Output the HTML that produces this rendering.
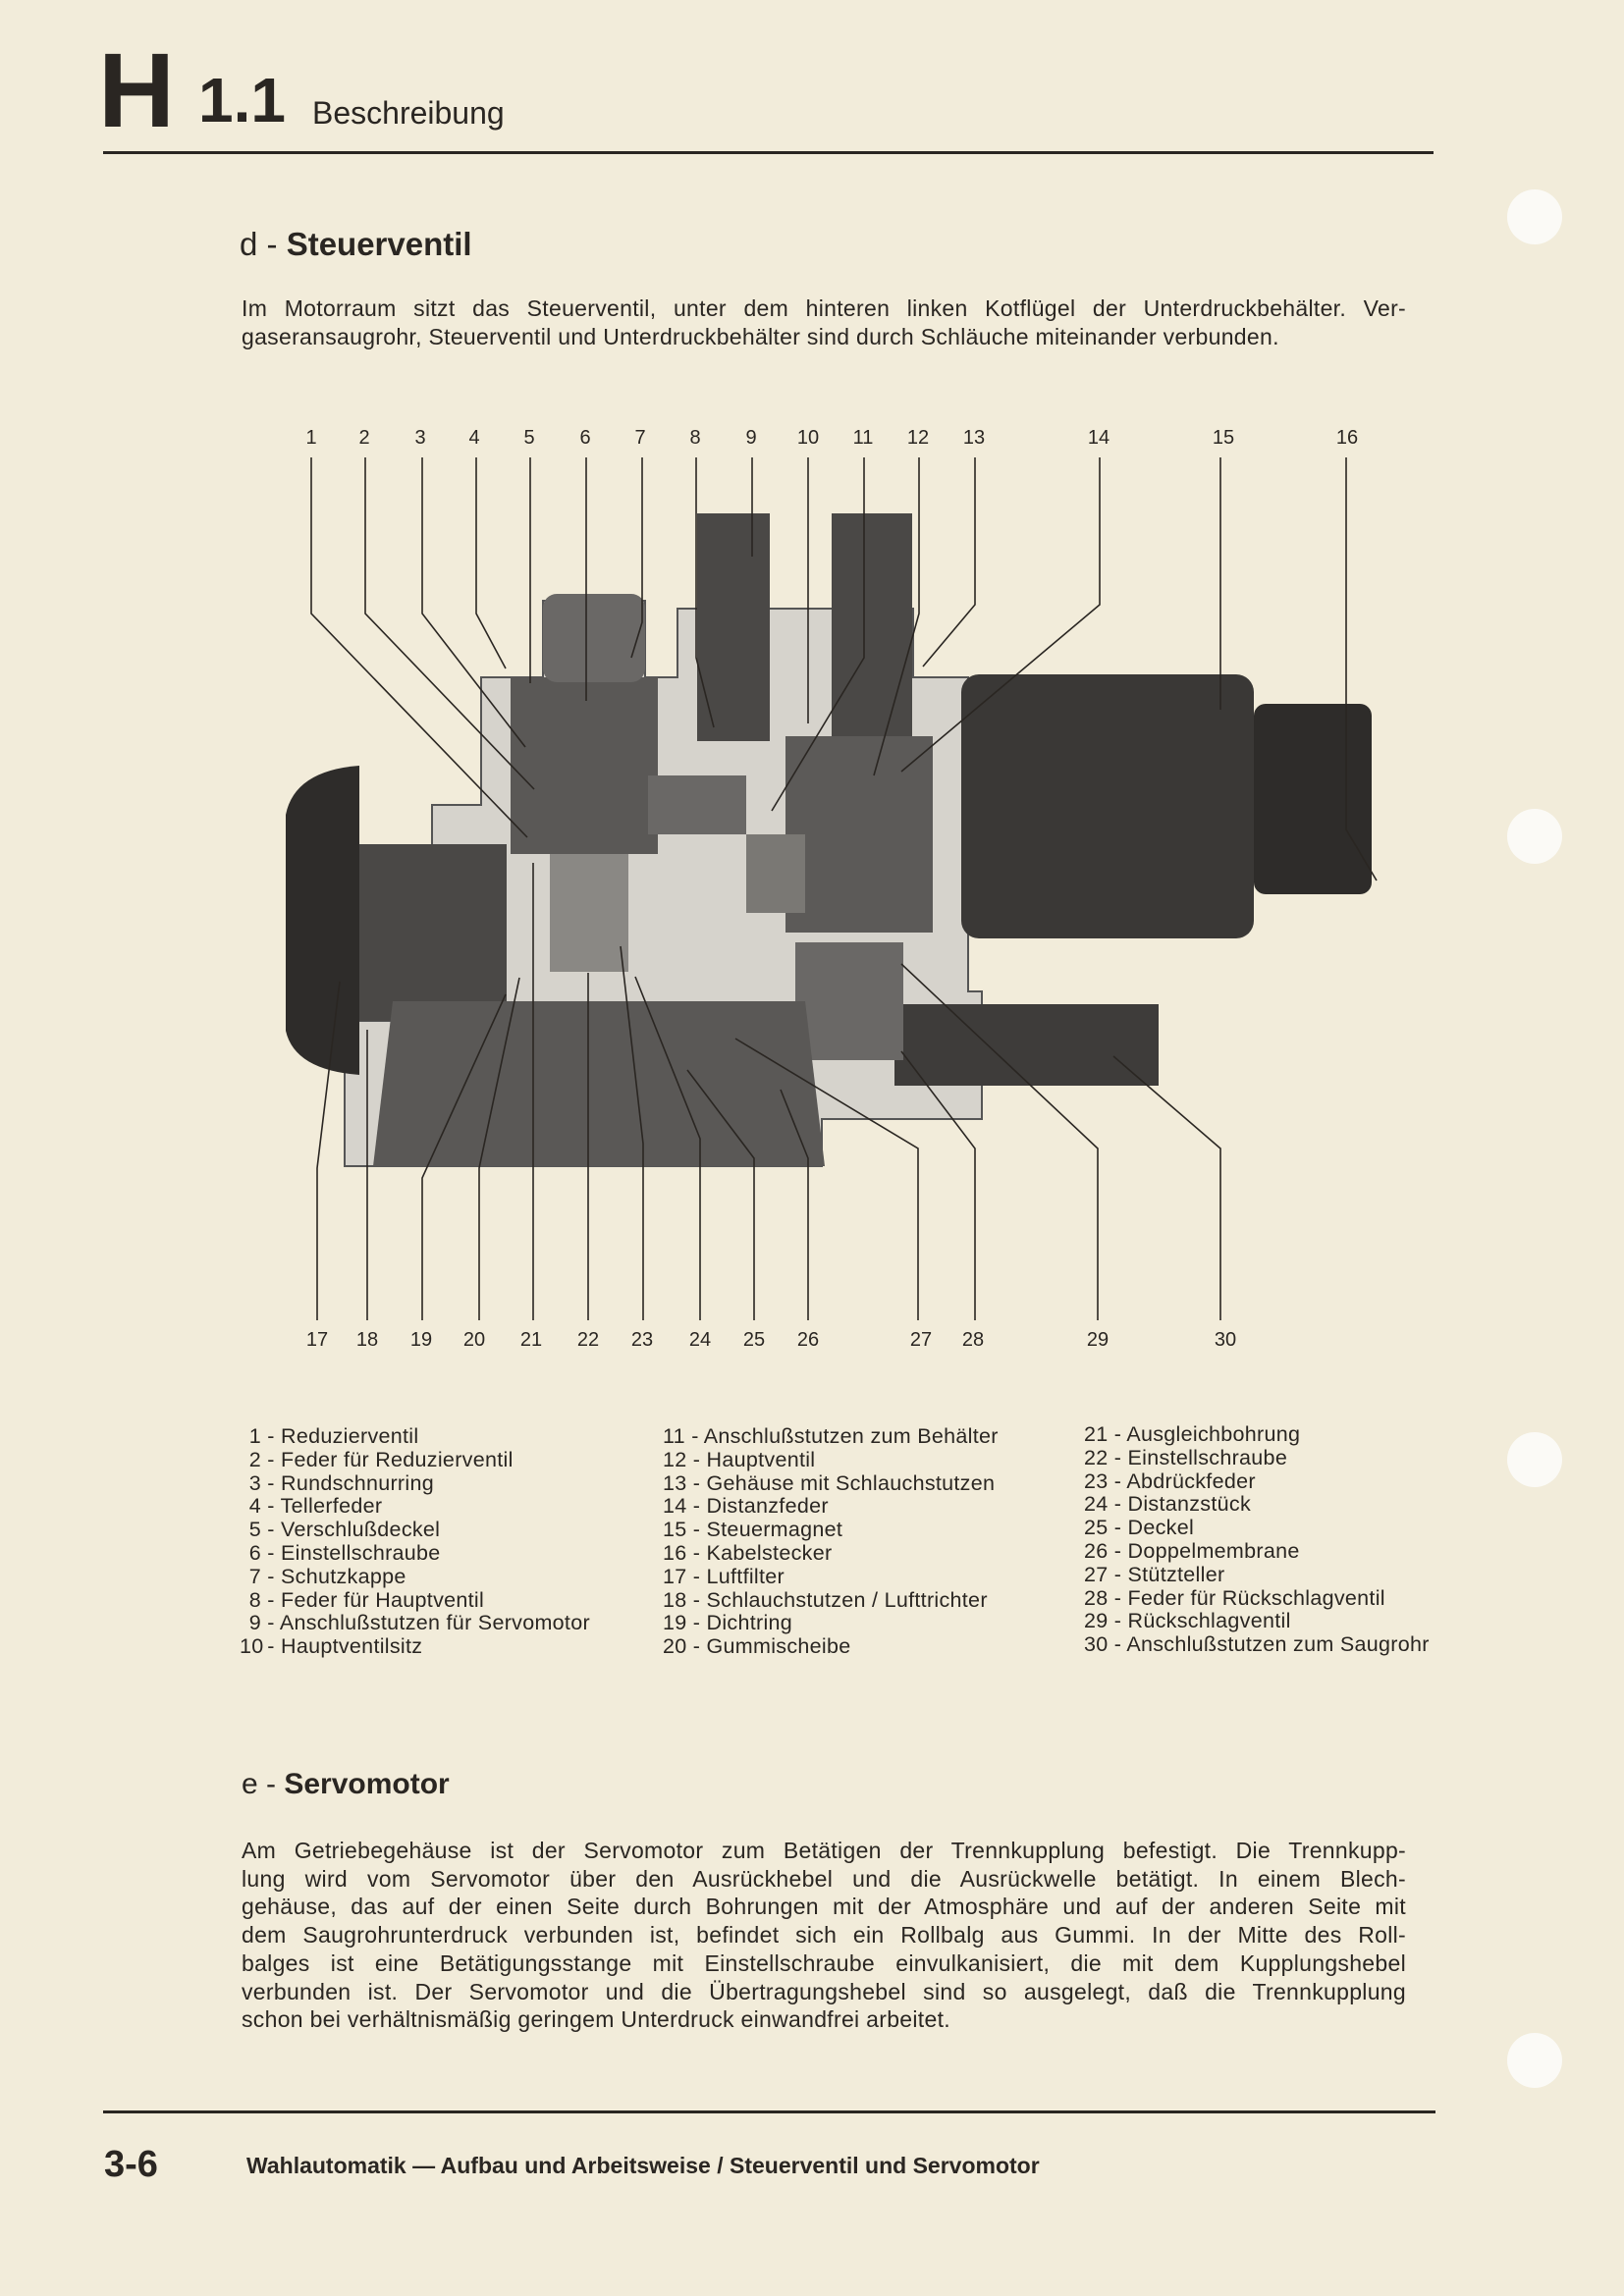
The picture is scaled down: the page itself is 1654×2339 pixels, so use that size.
<!DOCTYPE html>
<html><head><meta charset="utf-8">
<style>
html,body{margin:0;padding:0}
body{width:1654px;height:2339px;background:#f2ecda;position:relative;overflow:hidden;font-family:"Liberation Sans",sans-serif;color:#2a2622}
.a{position:absolute;white-space:nowrap}
.p{position:absolute;left:246px;width:1186px;font-size:23px;line-height:28.7px;letter-spacing:0.3px}
.p div{text-align:justify;text-align-last:justify;white-space:nowrap}
.p div.l{text-align-last:left}
.leg{position:absolute;font-size:21.5px;line-height:23.8px;letter-spacing:0.3px}
.leg div{white-space:nowrap}
.leg span{display:inline-block;width:22px;text-align:right}
.hole{position:absolute;width:56px;height:56px;border-radius:50%;background:#fbfaf6;left:1535px}
</style></head><body>
<div class="a" style="left:100px;top:38px;font-size:108px;font-weight:bold;line-height:108px;letter-spacing:-3px">H</div>
<div class="a" style="left:202px;top:70px;font-size:64px;font-weight:bold;line-height:64px">1.1</div>
<div class="a" style="left:318px;top:97px;font-size:32px;line-height:36px">Beschreibung</div>
<div class="a" style="left:105px;top:154px;width:1355px;height:3px;background:#2a2622"></div>

<div class="a" style="left:244px;top:230px;font-size:33px;line-height:38px">d - <b>Steuerventil</b></div>
<div class="p" style="top:300px">
<div>Im Motorraum sitzt das Steuerventil, unter dem hinteren linken Kotflügel der Unterdruckbehälter. Ver-</div>
<div class="l">gaseransaugrohr, Steuerventil und Unterdruckbehälter sind durch Schläuche miteinander verbunden.</div>
</div>

<svg class="a" style="left:0;top:0" width="1654" height="2339" viewBox="0 0 1654 2339">
<g fill="#d6d3cc" stroke="#555" stroke-width="2">
<path d="M351 1188 L351 1040 L440 1040 L440 820 L490 820 L490 690 L553 690 L553 612 L657 612 L657 690 L690 690 L690 620 L784 620 L847 620 L930 620 L930 690 L986 690 L986 1010 L1000 1010 L1000 1140 L837 1140 L837 1188 Z"/>
</g>
<g fill="#3a3836">
<rect x="979" y="687" width="298" height="269" rx="18"/>
<rect x="1277" y="717" width="120" height="194" rx="12" fill="#2e2c2a"/>
<rect x="710" y="523" width="74" height="232" fill="#4a4846"/>
<rect x="847" y="523" width="82" height="232" fill="#4a4846"/>
<rect x="911" y="1023" width="269" height="83" fill="#3e3c3a"/>
<rect x="520" y="690" width="150" height="180" fill="#5a5856"/>
<rect x="553" y="605" width="104" height="90" rx="14" fill="#6a6866"/>
<rect x="800" y="750" width="150" height="200" fill="#5c5a58"/>
<rect x="810" y="960" width="110" height="120" fill="#6a6866"/>
<rect x="560" y="870" width="80" height="120" fill="#8a8884"/>
<rect x="366" y="860" width="150" height="180" fill="#4a4846"/>
<path d="M291 830 Q300 785 366 780 L366 1095 Q300 1090 291 1050 Z" fill="#2e2c2a"/>
<path d="M400 1020 L820 1020 L840 1188 L380 1188 Z" fill="#5a5856"/>
<rect x="760" y="850" width="60" height="80" fill="#7a7874"/>
<rect x="660" y="790" width="100" height="60" fill="#6a6866"/>
</g>
<g stroke="#2a2622" stroke-width="1.6" fill="none">
<polyline points="317,466 317,625 537,853"/>
<polyline points="372,466 372,625 544,804"/>
<polyline points="430,466 430,625 535,761"/>
<polyline points="485,466 485,625 515,681"/>
<polyline points="540,466 540,696"/>
<polyline points="597,466 597,714"/>
<polyline points="654,466 654,634 643,670"/>
<polyline points="709,466 709,670 727,741"/>
<polyline points="766,466 766,567"/>
<polyline points="823,466 823,737"/>
<polyline points="880,466 880,670 786,826"/>
<polyline points="936,466 936,625 890,790"/>
<polyline points="993,466 993,616 940,679"/>
<polyline points="1120,466 1120,616 918,786"/>
<polyline points="1243,466 1243,723"/>
<polyline points="1371,466 1371,845 1402,897"/>
<polyline points="323,1345 323,1190 346,1000"/>
<polyline points="374,1345 374,1049"/>
<polyline points="430,1345 430,1200 515,1013"/>
<polyline points="488,1345 488,1190 529,996"/>
<polyline points="543,1345 543,879"/>
<polyline points="599,1345 599,991"/>
<polyline points="655,1345 655,1165 632,964"/>
<polyline points="713,1345 713,1160 647,995"/>
<polyline points="768,1345 768,1180 700,1090"/>
<polyline points="823,1345 823,1180 795,1110"/>
<polyline points="935,1345 935,1170 749,1058"/>
<polyline points="993,1345 993,1170 918,1071"/>
<polyline points="1118,1345 1118,1170 918,982"/>
<polyline points="1243,1345 1243,1170 1134,1076"/>
</g>
<g font-family="Liberation Sans, sans-serif" font-size="20" fill="#2a2622" text-anchor="middle">
<text x="317" y="452">1</text><text x="371" y="452">2</text><text x="428" y="452">3</text><text x="483" y="452">4</text><text x="539" y="452">5</text><text x="596" y="452">6</text><text x="652" y="452">7</text><text x="708" y="452">8</text><text x="765" y="452">9</text><text x="823" y="452">10</text><text x="879" y="452">11</text><text x="935" y="452">12</text><text x="992" y="452">13</text><text x="1119" y="452">14</text><text x="1246" y="452">15</text><text x="1372" y="452">16</text>
<text x="323" y="1371">17</text><text x="374" y="1371">18</text><text x="429" y="1371">19</text><text x="483" y="1371">20</text><text x="541" y="1371">21</text><text x="599" y="1371">22</text><text x="654" y="1371">23</text><text x="713" y="1371">24</text><text x="768" y="1371">25</text><text x="823" y="1371">26</text><text x="938" y="1371">27</text><text x="991" y="1371">28</text><text x="1118" y="1371">29</text><text x="1248" y="1371">30</text>
</g>
</svg>

<div class="leg" style="left:244px;top:1452px">
<div><span>1</span> - Reduzierventil</div><div><span>2</span> - Feder für Reduzierventil</div><div><span>3</span> - Rundschnurring</div><div><span>4</span> - Tellerfeder</div><div><span>5</span> - Verschlußdeckel</div><div><span>6</span> - Einstellschraube</div><div><span>7</span> - Schutzkappe</div><div><span>8</span> - Feder für Hauptventil</div><div><span>9</span> - Anschlußstutzen für Servomotor</div><div><span>10</span> - Hauptventilsitz</div>
</div>
<div class="leg" style="left:675px;top:1452px">
<div>11 - Anschlußstutzen zum Behälter</div><div>12 - Hauptventil</div><div>13 - Gehäuse mit Schlauchstutzen</div><div>14 - Distanzfeder</div><div>15 - Steuermagnet</div><div>16 - Kabelstecker</div><div>17 - Luftfilter</div><div>18 - Schlauchstutzen / Lufttrichter</div><div>19 - Dichtring</div><div>20 - Gummischeibe</div>
</div>
<div class="leg" style="left:1104px;top:1450px">
<div>21 - Ausgleichbohrung</div><div>22 - Einstellschraube</div><div>23 - Abdrückfeder</div><div>24 - Distanzstück</div><div>25 - Deckel</div><div>26 - Doppelmembrane</div><div>27 - Stützteller</div><div>28 - Feder für Rückschlagventil</div><div>29 - Rückschlagventil</div><div>30 - Anschlußstutzen zum Saugrohr</div>
</div>

<div class="a" style="left:246px;top:1800px;font-size:30px;line-height:36px">e - <b>Servomotor</b></div>
<div class="p" style="top:1871px">
<div>Am Getriebegehäuse ist der Servomotor zum Betätigen der Trennkupplung befestigt. Die Trennkupp-</div>
<div>lung wird vom Servomotor über den Ausrückhebel und die Ausrückwelle betätigt. In einem Blech-</div>
<div>gehäuse, das auf der einen Seite durch Bohrungen mit der Atmosphäre und auf der anderen Seite mit</div>
<div>dem Saugrohrunterdruck verbunden ist, befindet sich ein Rollbalg aus Gummi. In der Mitte des Roll-</div>
<div>balges ist eine Betätigungsstange mit Einstellschraube einvulkanisiert, die mit dem Kupplungshebel</div>
<div>verbunden ist. Der Servomotor und die Übertragungshebel sind so ausgelegt, daß die Trennkupplung</div>
<div class="l">schon bei verhältnismäßig geringem Unterdruck einwandfrei arbeitet.</div>
</div>

<div class="a" style="left:105px;top:2150px;width:1357px;height:3px;background:#2a2622"></div>
<div class="a" style="left:106px;top:2184px;font-size:38px;font-weight:bold;line-height:42px">3-6</div>
<div class="a" style="left:251px;top:2192px;font-size:23px;font-weight:bold;line-height:28px">Wahlautomatik — Aufbau und Arbeitsweise / Steuerventil und Servomotor</div>

<div class="hole" style="top:193px"></div>
<div class="hole" style="top:824px"></div>
<div class="hole" style="top:1459px"></div>
<div class="hole" style="top:2071px"></div>
</body></html>
